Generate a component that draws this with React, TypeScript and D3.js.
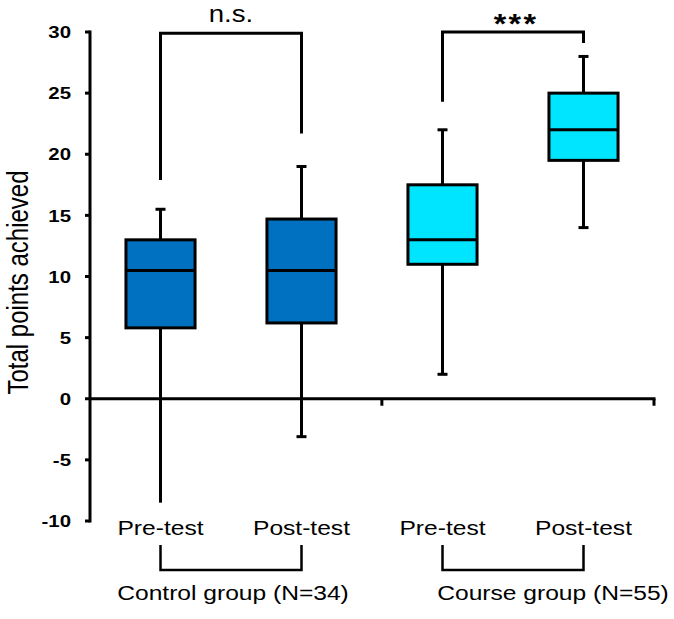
import React from "react";
import * as d3 from "d3";

const categories = ["Control Pre-test", "Control Post-test", "Course Pre-test", "Course Post-test"];
const testLabels = ["Pre-test", "Post-test", "Pre-test", "Post-test"];
const groupLabels = ["Control group (N=34)", "Course group (N=55)"];
const groupMembers = [[0, 1], [2, 3]];
const whiskerLow = [-8.5, -3.1, 2.0, 14.0];
const q1 = [5.8, 6.2, 11.0, 19.5];
const median = [10.5, 10.5, 13.0, 22.0];
const q3 = [13.0, 14.7, 17.5, 25.0];
const whiskerHigh = [15.5, 19.0, 22.0, 28.0];
const lowerCap = [false, true, true, true];
const boxColors = ["#0070C0", "#0070C0", "#00E5FF", "#00E5FF"];
const yTicks = [-10, -5, 0, 5, 10, 15, 20, 25, 30];
const xAxisTicks = [2.07, 4];
const sigLabels = ["n.s.", "***"];
const sigPairs = [[0, 1], [2, 3]];
const sigTop = [29.9, 30.0];
const sigLeftEnd = [17.9, 24.3];
const sigRightEnd = [21.7, 29.1];

const W = 674;
const H = 619;
const FONT = "Arial, 'Liberation Sans', sans-serif";
const SX = 1.2;

export default function App() {
  const y = d3.scaleLinear().domain([-10, 30]).range([521, 32]);
  const x = d3.scaleLinear().domain([0, 4]).range([90, 654]);
  const cx = (i: number) => x(i + 0.5);
  const band = x(1) - x(0);
  const boxW = band * 0.49;
  const capW = 10;
  const sw = 3;

  return (
    <svg width={W} height={H} style={{ position: "absolute", left: 0, top: 0, background: "#fff" }} fontFamily={FONT}>
      {/* y axis */}
      <line x1={x(0)} x2={x(0)} y1={y(30) - 1.5} y2={y(-10) + 1.5} stroke="#000" strokeWidth={sw} />
      {yTicks.map((t) => (
        <g key={t}>
          <line x1={x(0) - 5} x2={x(0)} y1={y(t)} y2={y(t)} stroke="#000" strokeWidth={sw} />
          <text
            transform={`translate(${x(0) - 19},${y(t)}) scale(${SX},1)`}
            textAnchor="end"
            dy="0.36em"
            fontSize={17}
            fontWeight="bold"
          >
            {t}
          </text>
        </g>
      ))}
      {/* x axis at 0 */}
      <line x1={x(0)} x2={x(4) + 1.5} y1={y(0)} y2={y(0)} stroke="#000" strokeWidth={sw} />
      {xAxisTicks.map((t) => (
        <line key={t} x1={x(t)} x2={x(t)} y1={y(0)} y2={y(0) + 7} stroke="#000" strokeWidth={sw} />
      ))}
      {/* y label */}
      <text
        transform={`translate(28,${(y(30) + y(-10)) / 2 + 6}) scale(${SX},1) rotate(-90)`}
        textAnchor="middle"
        fontSize={24}
      >
        Total points achieved
      </text>
      {/* boxes */}
      {categories.map((c, i) => (
        <g key={c}>
          <line x1={cx(i)} x2={cx(i)} y1={y(whiskerHigh[i])} y2={y(q3[i])} stroke="#000" strokeWidth={sw} />
          <line x1={cx(i)} x2={cx(i)} y1={y(q1[i])} y2={y(whiskerLow[i])} stroke="#000" strokeWidth={sw} />
          <line x1={cx(i) - capW / 2} x2={cx(i) + capW / 2} y1={y(whiskerHigh[i])} y2={y(whiskerHigh[i])} stroke="#000" strokeWidth={sw} />
          {lowerCap[i] && (
            <line x1={cx(i) - capW / 2} x2={cx(i) + capW / 2} y1={y(whiskerLow[i])} y2={y(whiskerLow[i])} stroke="#000" strokeWidth={sw} />
          )}
          <rect
            x={cx(i) - boxW / 2}
            y={y(q3[i])}
            width={boxW}
            height={y(q1[i]) - y(q3[i])}
            fill={boxColors[i]}
            stroke="#000"
            strokeWidth={sw}
          />
          <line x1={cx(i) - boxW / 2} x2={cx(i) + boxW / 2} y1={y(median[i])} y2={y(median[i])} stroke="#000" strokeWidth={sw} />
          <text transform={`translate(${cx(i)},535) scale(${SX},1)`} textAnchor="middle" fontSize={20.5}>
            {testLabels[i]}
          </text>
        </g>
      ))}
      {/* significance brackets */}
      {sigPairs.map(([a, b], k) => (
        <g key={k}>
          <path
            d={`M${cx(a)},${y(sigLeftEnd[k])}V${y(sigTop[k])}H${cx(b)}V${y(sigRightEnd[k])}`}
            fill="none"
            stroke="#000"
            strokeWidth={sw}
          />
          {k === 0 ? (
            <text transform={`translate(${(cx(a) + cx(b)) / 2},22) scale(${SX},1)`} textAnchor="middle" fontSize={23}>
              {sigLabels[k]}
            </text>
          ) : (
            <text
              transform={`translate(${(cx(a) + cx(b)) / 2 + 3},33) scale(1.15,1)`}
              textAnchor="middle"
              fontSize={28}
              fontWeight="bold"
              letterSpacing={2}
            >
              {sigLabels[k]}
            </text>
          )}
        </g>
      ))}
      {/* group brackets */}
      {groupMembers.map(([a, b], k) => (
        <g key={k}>
          <path d={`M${cx(a)},545V570H${cx(b)}V545`} fill="none" stroke="#000" strokeWidth={2.5} />
          <text
            transform={`translate(${k === 0 ? (cx(a) + cx(b)) / 2 + 2 : (cx(a) + cx(b)) / 2 + 40},600) scale(${SX},1)`}
            textAnchor="middle"
            fontSize={20.5}
          >
            {groupLabels[k]}
          </text>
        </g>
      ))}
    </svg>
  );
}
